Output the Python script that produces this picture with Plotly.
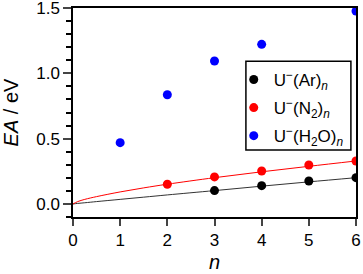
import plotly.graph_objects as go

# Data
n_ar = [3, 4, 5, 6]
ea_ar = [0.102, 0.140, 0.176, 0.201]
n_n2 = [2, 3, 4, 5, 6]
ea_n2 = [0.151, 0.207, 0.252, 0.298, 0.329]
n_h2o = [1, 2, 3, 4, 6]
ea_h2o = [0.469, 0.836, 1.094, 1.222, 1.477]

# Fit curves
fit_n = [0, 0.1, 0.25, 0.5, 1, 1.5, 2, 3, 4, 5, 6]
fit_ar = [0, 0.004, 0.009, 0.018, 0.035, 0.052, 0.069, 0.102, 0.136, 0.169, 0.201]
fit_n2 = [0, 0.018, 0.035, 0.056, 0.092, 0.123, 0.151, 0.201, 0.246, 0.288, 0.329]

names = ["U<sup>−</sup>(Ar)<sub><i>n</i></sub>",
         "U<sup>−</sup>(N<sub>2</sub>)<sub><i>n</i></sub>",
         "U<sup>−</sup>(H<sub>2</sub>O)<sub><i>n</i></sub>"]
colors = ["#000000", "#ff0000", "#0000ff"]

FONT = "Liberation Sans, Arial, sans-serif"

fig = go.Figure()
fig.add_trace(go.Scatter(x=fit_n, y=fit_ar, mode="lines", line=dict(color="#333333", width=1, shape="spline"),
                         showlegend=False, hoverinfo="skip"))
fig.add_trace(go.Scatter(x=fit_n, y=fit_n2, mode="lines", line=dict(color="#ff0000", width=1, shape="spline"),
                         showlegend=False, hoverinfo="skip"))
for i, (xs, ys, nm, c) in enumerate([(n_ar, ea_ar, names[0], colors[0]),
                                     (n_n2, ea_n2, names[1], colors[1]),
                                     (n_h2o, ea_h2o, names[2], colors[2])]):
    fig.add_trace(go.Scatter(x=xs, y=ys, mode="markers", name=nm, legendgroup=f"g{i}",
                             marker=dict(color=c, size=9, line=dict(width=0))))

# legend frame
fig.add_shape(type="rect", xref="paper", yref="paper", x0=0.611, x1=0.982, y0=0.321, y1=0.745,
              line=dict(color="black", width=1.5), fillcolor="white", layer="above")

fig.update_layout(
    width=363, height=274,
    margin=dict(l=73, r=7, t=8, b=57, autoexpand=False),
    paper_bgcolor="white", plot_bgcolor="white",
    font=dict(family=FONT, size=17, color="black"),
    showlegend=True,
    legend=dict(x=0.568, y=0.742, xanchor="left", yanchor="top",
                borderwidth=0, bgcolor="rgba(0,0,0,0)",
                font=dict(size=17), tracegroupgap=3, itemwidth=30),
    xaxis=dict(range=[0, 6], tickvals=[0, 1, 2, 3, 4, 5, 6], ticks="outside", ticklen=7,
               tickwidth=1.5, showline=True, linecolor="black", linewidth=1.5, mirror=True,
               showgrid=False, zeroline=False, title=dict(text="<i>n</i>", standoff=6),
               tickfont=dict(size=17), automargin=False, ticklabeloverflow="allow"),
    yaxis=dict(range=[-0.1, 1.5], tickvals=[0, 0.5, 1.0, 1.5], ticktext=["0.0", "0.5", "1.0", "1.5"],
               ticks="outside", ticklen=8, tickwidth=1.5,
               minor=dict(dtick=0.1, tick0=0, ticks="outside", ticklen=5, tickwidth=1.5, tickcolor="black"),
               showline=True, linecolor="black", linewidth=1.5, mirror=True,
               showgrid=False, zeroline=False, title=dict(text="<i>EA</i> / eV", standoff=25),
               tickfont=dict(size=17), automargin=False, ticklabeloverflow="allow"),
)
fig.write_html("out.html", config={"displayModeBar": False},
               post_script="document.body.style.margin='0';document.body.style.padding='0';")
